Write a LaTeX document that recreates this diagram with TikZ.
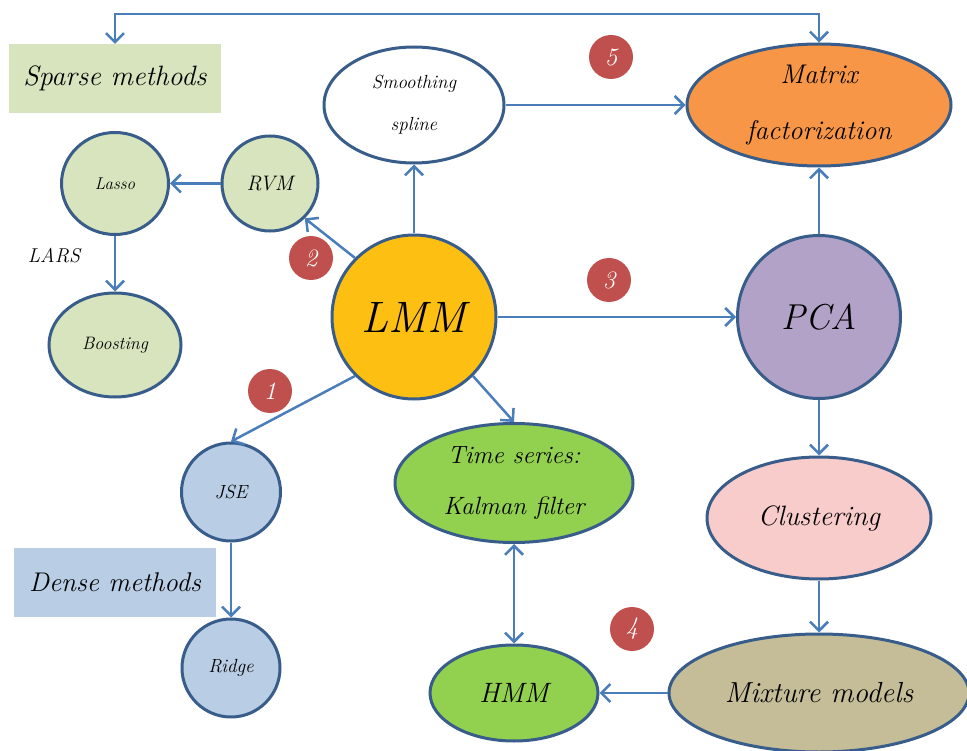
\documentclass[tikz,border=0pt]{standalone}
\usetikzlibrary{shapes.geometric,arrows.meta}
\definecolor{arrowblue}{RGB}{74,126,187}
\definecolor{edgeblue}{RGB}{56,93,138}
\definecolor{sparsefill}{HTML}{D7E4BD}
\definecolor{densefill}{HTML}{B9CDE5}
\definecolor{lmmfill}{HTML}{FDBF12}
\definecolor{matfill}{HTML}{F79646}
\definecolor{pcafill}{HTML}{B3A2C7}
\definecolor{clusfill}{HTML}{F9CCCC}
\definecolor{mixfill}{HTML}{C4BD97}
\definecolor{greenfill}{HTML}{92D050}
\definecolor{badgefill}{HTML}{C0504D}
\tikzset{
  blob/.style={ellipse, draw=edgeblue, line width=3pt, inner sep=0pt, align=center, font=\itshape},
  labelbox/.style={rectangle, inner sep=0pt, font=\itshape\fontsize{27}{30}\selectfont},
  badge/.style={circle, fill=badgefill, minimum size=44pt, inner sep=0pt, text=white, font=\itshape\fontsize{25}{26}\selectfont},
  tip/.style={},
  arr/.style={draw=arrowblue, line width=2.5pt, -{Straight Barb[length=9pt,width=18pt,line width=2.5pt]}},
  arrboth/.style={draw=arrowblue, line width=2.5pt, {Straight Barb[length=9pt,width=18pt,line width=2.5pt]}-{Straight Barb[length=9pt,width=18pt,line width=2.5pt]}}
}
\begin{document}
\begin{tikzpicture}[x=1pt,y=-1pt]
\useasboundingbox (0,0) rectangle (967,751);
% label boxes
\node[labelbox, fill=sparsefill, minimum width=212pt, minimum height=69pt, font=\itshape\fontsize{28}{30}\selectfont] (sparse) at (115,78.5) {Sparse methods};
\node[labelbox, fill=densefill, minimum width=202pt, minimum height=69pt] (dense) at (115,582.5) {Dense methods};
% nodes
\node[blob, fill=white, minimum width=180pt, minimum height=116pt, font=\itshape\fontsize{19}{42}\selectfont] (smooth) at (414,105) {Smoothing\\spline};
\node[blob, fill=matfill, minimum width=264pt, minimum height=122pt, font=\itshape\fontsize{27}{56}\selectfont] (matrix) at (819,105) {Matrix\\factorization};
\node[blob, fill=sparsefill, minimum width=107pt, minimum height=102pt, font=\itshape\fontsize{17}{20}\selectfont] (lasso) at (115,183.5) {Lasso};
\node[blob, fill=sparsefill, minimum width=96pt, minimum height=95pt, font=\itshape\fontsize{21}{24}\selectfont] (rvm) at (270,183.5) {RVM};
\node[font=\itshape\fontsize{20}{24}\selectfont, inner sep=0pt] (lars) at (54,256) {LARS};
\node[blob, fill=sparsefill, minimum width=132pt, minimum height=104pt, font=\itshape\fontsize{18}{20}\selectfont] (boost) at (115,345) {Boosting};
\node[blob, fill=lmmfill, minimum width=164pt, minimum height=164pt, font=\itshape\fontsize{44}{48}\selectfont] (lmm) at (414,317) {LMM};
\node[blob, fill=pcafill, minimum width=163pt, minimum height=163pt, font=\itshape\fontsize{36}{40}\selectfont] (pca) at (819,317) {PCA};
\node[blob, fill=densefill, minimum width=99pt, minimum height=98pt, font=\itshape\fontsize{19}{22}\selectfont] (jse) at (231,492) {JSE};
\node[blob, fill=densefill, minimum width=98pt, minimum height=98pt, font=\itshape\fontsize{19}{22}\selectfont] (ridge) at (231,668) {Ridge};
\node[blob, fill=greenfill, minimum width=238pt, minimum height=119pt, font=\itshape\fontsize{25}{51}\selectfont] (time) at (514,483) {Time series:\\Kalman filter};
\node[blob, fill=clusfill, minimum width=224pt, minimum height=122pt, font=\itshape\fontsize{28}{32}\selectfont] (clus) at (819,518) {Clustering};
\node[blob, fill=greenfill, minimum width=168pt, minimum height=96pt, font=\itshape\fontsize{28}{32}\selectfont] (hmm) at (514,693) {HMM};
\node[blob, fill=mixfill, minimum width=300pt, minimum height=118pt, font=\itshape\fontsize{29}{32}\selectfont] (mix) at (819,693) {Mixture models};
% badges
\node[badge] (b1) at (270,391) {1};
\node[badge] (b2) at (311,258) {2};
\node[badge] (b3) at (609,280) {3};
\node[badge] (b4) at (632,629) {4};
\node[badge] (b5) at (611,57) {5};
% connectors
\coordinate (topL) at (115,14);
\coordinate (topR) at (819,14);
\draw[arrboth] (sparse.north) -- (topL) -- (topR) -- (matrix.north);
\draw[arr] (smooth.east) -- (matrix.west);
\draw[arr] (lmm.north) -- (smooth.south);
\draw[arr] (lmm.135) -- (rvm.-45);
\draw[arr] (rvm.west) -- (lasso.east);
\draw[arr] (lasso.south) -- (boost.north);
\draw[arr] (lmm.east) -- (pca.west);
\draw[arr] (pca.north) -- (matrix.south);
\draw[arr] (pca.south) -- (clus.north);
\draw[arr] (clus.south) -- (mix.north);
\draw[arr] (mix.west) -- (hmm.east);
\draw[arrboth] (time.south) -- (hmm.north);
\draw[arr] (lmm.-45) -- (time.north);
\draw[arr] (lmm.-135) -- (jse.north);
\draw[arr] (jse.south) -- (ridge.north);
\end{tikzpicture}
\end{document}
